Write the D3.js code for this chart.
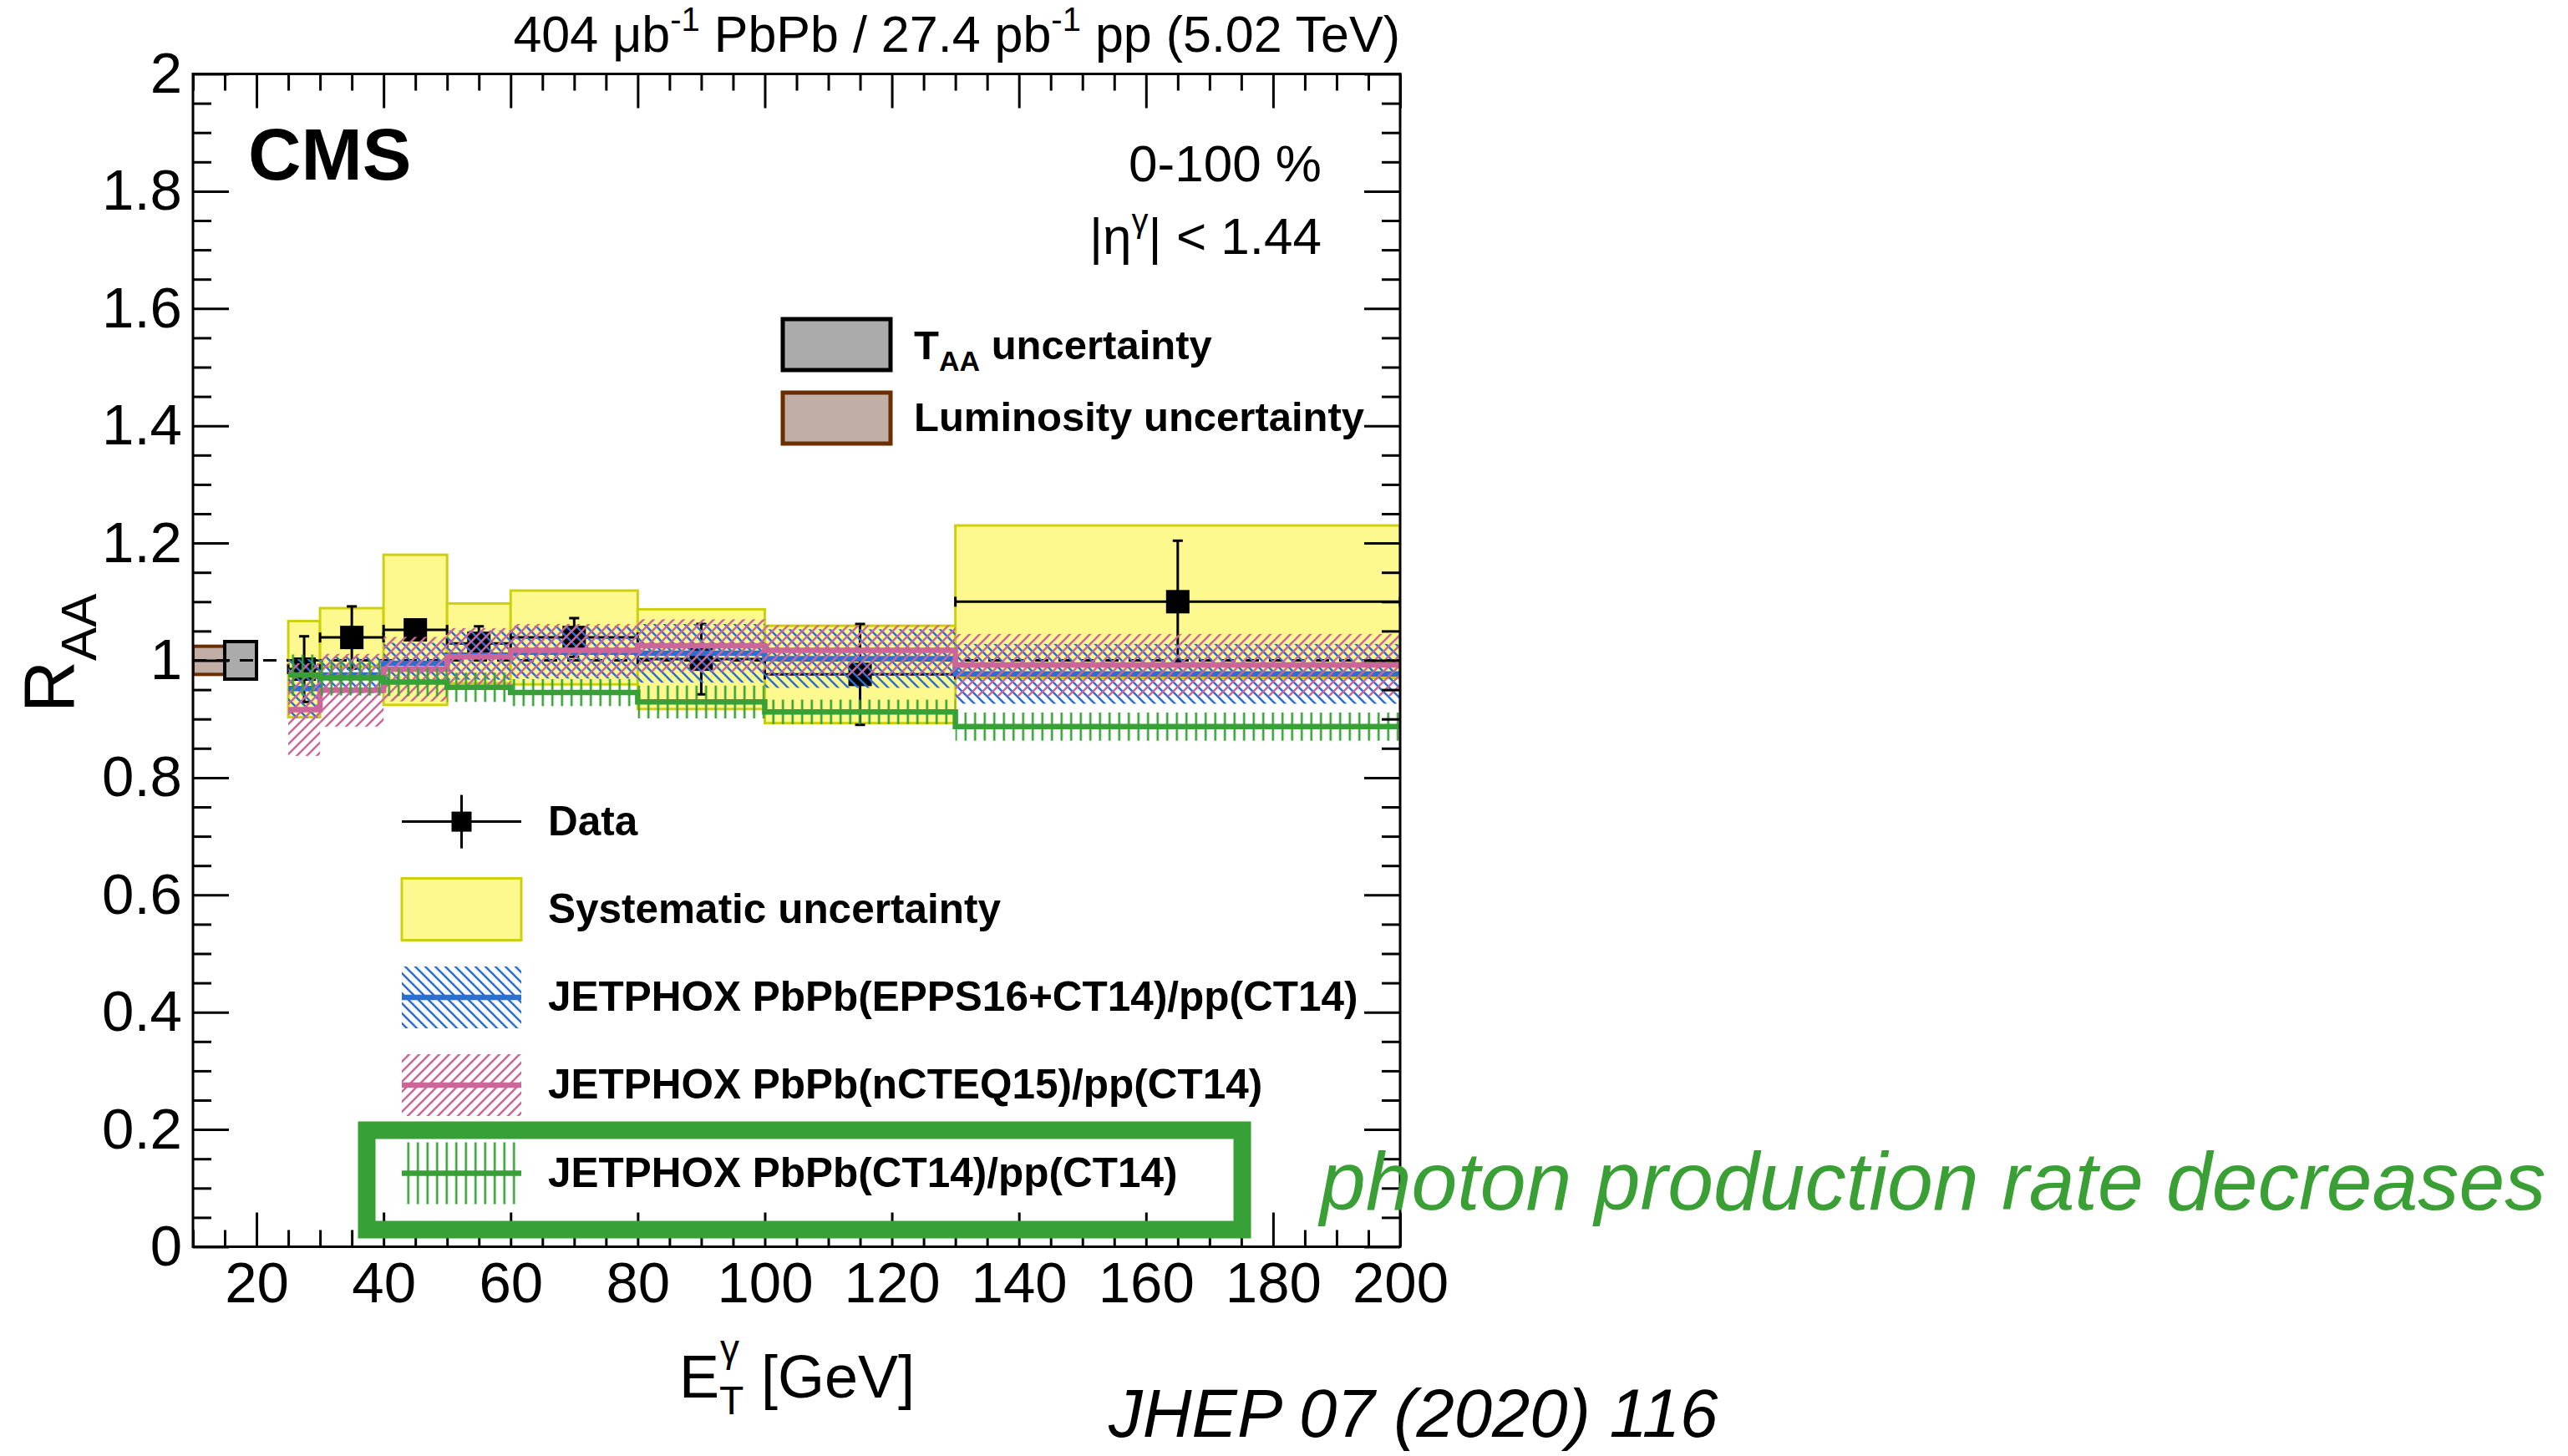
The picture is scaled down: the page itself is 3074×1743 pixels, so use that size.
<!DOCTYPE html>
<html>
<head>
<meta charset="utf-8">
<script src="https://cdn.jsdelivr.net/npm/d3@7"></script>
<style>
  html, body { margin: 0; padding: 0; background: #ffffff; }
  svg { display: block; }
  text { font-family: "Liberation Sans", Arial, Helvetica, sans-serif; }
</style>
</head>
<body>
<svg id="chart" width="3074" height="1743"></svg>
<script>
// ---- photon E_T bins (GeV) ----
const binEdges = [25, 30, 40, 50, 60, 80, 100, 130, 200];

// ---- measured R_AA with statistical and systematic uncertainties ----
const dataRaa = [0.985, 1.039, 1.052, 1.029, 1.039, 1.002, 0.976, 1.100];
const statErr = [0.056, 0.053, 0.015, 0.029, 0.033, 0.060, 0.086, 0.104];
const sysErr  = [0.082, 0.050, 0.128, 0.068, 0.080, 0.085, 0.083, 0.130];

// ---- JETPHOX predictions: central value and half-width of the band ----
const eppsCentral  = [0.952, 0.975, 0.995, 1.009, 1.014, 1.012, 1.003, 0.977];
const eppsErr      = [0.050, 0.031, 0.035, 0.042, 0.045, 0.050, 0.050, 0.051];
const ncteqCentral = [0.916, 0.949, 0.985, 1.006, 1.017, 1.025, 1.017, 0.992];
const ncteqErr     = [0.079, 0.062, 0.055, 0.049, 0.045, 0.045, 0.043, 0.053];
const ct14Central  = [0.975, 0.970, 0.963, 0.954, 0.945, 0.929, 0.912, 0.887];
const ct14Err      = [0.035, 0.030, 0.024, 0.025, 0.023, 0.028, 0.021, 0.024];

// ---- global normalisation uncertainties (drawn at R_AA = 1) ----
const lumiRange = [10, 15];
const lumiErr = 0.024;
const taaRange = [15, 20];
const taaErr = 0.032;

// ---- axis ticks ----
const xMajorTicks = [20, 40, 60, 80, 100, 120, 140, 160, 180, 200];
const xTickLabels = ["20", "40", "60", "80", "100", "120", "140", "160", "180", "200"];
const yMajorTicks = [0, 0.2, 0.4, 0.6, 0.8, 1, 1.2, 1.4, 1.6, 1.8, 2];
const yTickLabels = ["0", "0.2", "0.4", "0.6", "0.8", "1", "1.2", "1.4", "1.6", "1.8", "2"];

const legendEntries = [
  "Data",
  "Systematic uncertainty",
  "JETPHOX PbPb(EPPS16+CT14)/pp(CT14)",
  "JETPHOX PbPb(nCTEQ15)/pp(CT14)",
  "JETPHOX PbPb(CT14)/pp(CT14)"
];

const colors = {
  epps: "#2c6fd2",
  ncteq: "#cc6699",
  ct14: "#37a037",
  sysFill: "#fdf98e",
  sysStroke: "#cfcf10",
  lumiFill: "#c1aea6",
  lumiStroke: "#6b2e00",
  taaFill: "#ababab"
};

const svg = d3.select("#chart");
const pLeft = 231, pRight = 1676, pTop = 88.5, pBottom = 1492.5;
const x = d3.scaleLinear().domain([10, 200]).range([pLeft, pRight]);
const y = d3.scaleLinear().domain([0, 2]).range([pBottom, pTop]);

// ---- hatch patterns ----
const defs = svg.append("defs");
function hatch(id, d, color, w, size) {
  const p = defs.append("pattern").attr("id", id)
    .attr("patternUnits", "userSpaceOnUse")
    .attr("width", size).attr("height", size);
  p.append("path").attr("d", d).attr("stroke", color)
    .attr("stroke-width", w).attr("fill", "none");
}
hatch("hatchBack", "M-3,-3 L15,15 M-3,9 L3,15 M9,-3 L15,3", colors.epps, 2.6, 12);
hatch("hatchFwd", "M-3,15 L15,-3 M-3,3 L3,-3 M9,15 L15,9", colors.ncteq, 2.6, 12);
hatch("hatchVert", "M5.75,0 L5.75,11.5", colors.ct14, 2.6, 11.5);
defs.append("clipPath").attr("id", "plotClip")
  .append("rect").attr("x", pLeft).attr("y", pTop)
  .attr("width", pRight - pLeft).attr("height", pBottom - pTop);

const bins = d3.range(dataRaa.length).map(i => ({
  lo: binEdges[i], hi: binEdges[i + 1], mid: (binEdges[i] + binEdges[i + 1]) / 2, i
}));

const plot = svg.append("g").attr("clip-path", "url(#plotClip)");

// systematic uncertainty boxes
plot.selectAll("rect.sys").data(bins).join("rect").attr("class", "sys")
  .attr("x", d => x(d.lo)).attr("width", d => x(d.hi) - x(d.lo))
  .attr("y", d => y(dataRaa[d.i] + sysErr[d.i]))
  .attr("height", d => y(dataRaa[d.i] - sysErr[d.i]) - y(dataRaa[d.i] + sysErr[d.i]))
  .attr("fill", colors.sysFill).attr("stroke", colors.sysStroke).attr("stroke-width", 3);

// normalisation boxes
plot.append("rect")
  .attr("x", x(lumiRange[0])).attr("width", x(lumiRange[1]) - x(lumiRange[0]))
  .attr("y", y(1 + lumiErr)).attr("height", y(1 - lumiErr) - y(1 + lumiErr))
  .attr("fill", colors.lumiFill).attr("stroke", colors.lumiStroke).attr("stroke-width", 4);
plot.append("rect")
  .attr("x", x(taaRange[0])).attr("width", x(taaRange[1]) - x(taaRange[0]))
  .attr("y", y(1 + taaErr)).attr("height", y(1 - taaErr) - y(1 + taaErr))
  .attr("fill", colors.taaFill).attr("stroke", "#000").attr("stroke-width", 4);

// reference line at unity
plot.append("line")
  .attr("x1", x(10)).attr("x2", x(200)).attr("y1", y(1)).attr("y2", y(1))
  .attr("stroke", "#000").attr("stroke-width", 3).attr("stroke-dasharray", "16,12");

// data points
const pts = plot.append("g");
bins.forEach(d => {
  const v = dataRaa[d.i], e = statErr[d.i];
  const g = pts.append("g").attr("stroke", "#000").attr("stroke-width", 3);
  g.append("line").attr("x1", x(d.lo)).attr("x2", x(d.hi)).attr("y1", y(v)).attr("y2", y(v));
  g.append("line").attr("x1", x(d.lo)).attr("x2", x(d.lo)).attr("y1", y(v) - 6).attr("y2", y(v) + 6);
  g.append("line").attr("x1", x(d.hi)).attr("x2", x(d.hi)).attr("y1", y(v) - 6).attr("y2", y(v) + 6);
  g.append("line").attr("x1", x(d.mid)).attr("x2", x(d.mid)).attr("y1", y(v + e)).attr("y2", y(v - e));
  g.append("line").attr("x1", x(d.mid) - 6).attr("x2", x(d.mid) + 6).attr("y1", y(v + e)).attr("y2", y(v + e));
  g.append("line").attr("x1", x(d.mid) - 6).attr("x2", x(d.mid) + 6).attr("y1", y(v - e)).attr("y2", y(v - e));
  g.append("rect").attr("x", x(d.mid) - 14).attr("y", y(v) - 14)
    .attr("width", 28).attr("height", 28).attr("fill", "#000").attr("stroke", "none");
});

// theory bands and step lines
const stepLine = d3.line().x(p => x(p[0])).y(p => y(p[1])).curve(d3.curveStepAfter);
function theory(central, err, pattern, color) {
  plot.append("g").selectAll("rect").data(bins).join("rect")
    .attr("x", d => x(d.lo)).attr("width", d => x(d.hi) - x(d.lo))
    .attr("y", d => y(central[d.i] + err[d.i]))
    .attr("height", d => y(central[d.i] - err[d.i]) - y(central[d.i] + err[d.i]))
    .attr("fill", `url(#${pattern})`);
  const p = central.map((v, i) => [binEdges[i], v]);
  p.push([binEdges[binEdges.length - 1], central[central.length - 1]]);
  plot.append("path").attr("d", stepLine(p)).attr("fill", "none")
    .attr("stroke", color).attr("stroke-width", 6.5);
}
theory(eppsCentral, eppsErr, "hatchBack", colors.epps);
theory(ncteqCentral, ncteqErr, "hatchFwd", colors.ncteq);
theory(ct14Central, ct14Err, "hatchVert", colors.ct14);

// ---- axes: ticks on all four sides, pointing inwards ----
const xMinor = d3.range(10, 201, 5).filter(v => !xMajorTicks.includes(v));
const yMinor = d3.range(0, 41).map(k => k * 0.05).filter(v => !yMajorTicks.some(t => Math.abs(t - v) < 1e-6));
function styleAxis(g) {
  g.select(".domain").remove();
  g.selectAll(".tick line").attr("stroke", "#000").attr("stroke-width", 3);
  g.selectAll(".tick text").attr("fill", "#000")
    .attr("font-family", '"Liberation Sans", Arial, sans-serif').attr("font-size", 69);
}
svg.append("g").attr("transform", `translate(0,${pBottom})`)
  .call(d3.axisBottom(x).tickValues(xMajorTicks).tickSize(-41).tickPadding(18)
    .tickFormat((d, i) => xTickLabels[i])).call(styleAxis);
svg.append("g").attr("transform", `translate(0,${pBottom})`)
  .call(d3.axisBottom(x).tickValues(xMinor).tickSize(-20).tickFormat("")).call(styleAxis);
svg.append("g").attr("transform", `translate(0,${pTop})`)
  .call(d3.axisTop(x).tickValues(xMajorTicks).tickSize(-41).tickFormat("")).call(styleAxis);
svg.append("g").attr("transform", `translate(0,${pTop})`)
  .call(d3.axisTop(x).tickValues(xMinor).tickSize(-20).tickFormat("")).call(styleAxis);
svg.append("g").attr("transform", `translate(${pLeft},0)`)
  .call(d3.axisLeft(y).tickValues(yMajorTicks).tickSize(-43).tickPadding(13)
    .tickFormat((d, i) => yTickLabels[i])).call(styleAxis);
svg.append("g").attr("transform", `translate(${pLeft},0)`)
  .call(d3.axisLeft(y).tickValues(yMinor).tickSize(-22).tickFormat("")).call(styleAxis);
svg.append("g").attr("transform", `translate(${pRight},0)`)
  .call(d3.axisRight(y).tickValues(yMajorTicks).tickSize(-43).tickFormat("")).call(styleAxis);
svg.append("g").attr("transform", `translate(${pRight},0)`)
  .call(d3.axisRight(y).tickValues(yMinor).tickSize(-22).tickFormat("")).call(styleAxis);
svg.append("rect").attr("x", pLeft).attr("y", pTop)
  .attr("width", pRight - pLeft).attr("height", pBottom - pTop)
  .attr("fill", "none").attr("stroke", "#000").attr("stroke-width", 3);

// ---- axis titles ----
const xt = svg.append("g").attr("font-size", 72);
xt.append("text").attr("x", 813).attr("y", 1673).text("E");
xt.append("text").attr("x", 861).attr("y", 1693).attr("font-size", 48).text("T");
xt.append("text").attr("x", 862).attr("y", 1630).attr("font-size", 46).text("γ");
xt.append("text").attr("x", 911).attr("y", 1673).text("[GeV]");

const yt = svg.append("text").attr("transform", "translate(88,853) rotate(-90)").attr("font-size", 86);
yt.append("tspan").text("R");
yt.append("tspan").attr("dy", 27).attr("font-size", 60).text("AA");

// ---- header ----
const hdr = svg.append("text").attr("x", pRight).attr("y", 62)
  .attr("text-anchor", "end").attr("font-size", 61);
hdr.append("tspan").text("404 μb");
hdr.append("tspan").attr("dy", -25).attr("font-size", 40).text("-1");
hdr.append("tspan").attr("dy", 25).text(" PbPb / 27.4 pb");
hdr.append("tspan").attr("dy", -25).attr("font-size", 40).text("-1");
hdr.append("tspan").attr("dy", 25).text(" pp (5.02 TeV)");

svg.append("text").attr("x", 297).attr("y", 215).attr("font-size", 88)
  .attr("font-weight", "bold").text("CMS");
svg.append("text").attr("x", 1582).attr("y", 217).attr("font-size", 62)
  .attr("text-anchor", "end").text("0-100 %");
const eta = svg.append("text").attr("x", 1582).attr("y", 304).attr("font-size", 62)
  .attr("text-anchor", "end");
eta.append("tspan").text("|η");
eta.append("tspan").attr("dy", -26).attr("font-size", 40).text("γ");
eta.append("tspan").attr("dy", 26).text("| < 1.44");

// ---- normalisation legend ----
const nl = svg.append("g").attr("font-size", 49).attr("font-weight", "bold");
nl.append("rect").attr("x", 937).attr("y", 382).attr("width", 129).attr("height", 61)
  .attr("fill", colors.taaFill).attr("stroke", "#000").attr("stroke-width", 5);
nl.append("rect").attr("x", 937).attr("y", 470).attr("width", 129).attr("height", 61)
  .attr("fill", colors.lumiFill).attr("stroke", colors.lumiStroke).attr("stroke-width", 5);
const taaT = nl.append("text").attr("x", 1094).attr("y", 430);
taaT.append("tspan").text("T");
taaT.append("tspan").attr("dy", 14).attr("font-size", 34).text("AA");
taaT.append("tspan").attr("dy", -14).text(" uncertainty");
nl.append("text").attr("x", 1094).attr("y", 516).text("Luminosity uncertainty");

// ---- main legend ----
const lg = svg.append("g");
const rowY = [983.6, 1088.5, 1194, 1299, 1404.5];
const bx0 = 481, bx1 = 624, bh = 37;
// data
lg.append("line").attr("x1", bx0).attr("x2", bx1).attr("y1", rowY[0]).attr("y2", rowY[0])
  .attr("stroke", "#000").attr("stroke-width", 3);
lg.append("line").attr("x1", 552.5).attr("x2", 552.5).attr("y1", rowY[0] - 32).attr("y2", rowY[0] + 32)
  .attr("stroke", "#000").attr("stroke-width", 3);
lg.append("rect").attr("x", 552.5 - 12).attr("y", rowY[0] - 12).attr("width", 24).attr("height", 24)
  .attr("fill", "#000");
// systematic
lg.append("rect").attr("x", bx0).attr("y", rowY[1] - bh).attr("width", bx1 - bx0).attr("height", 2 * bh)
  .attr("fill", colors.sysFill).attr("stroke", colors.sysStroke).attr("stroke-width", 3);
// theory entries
[["hatchBack", colors.epps], ["hatchFwd", colors.ncteq], ["hatchVert", colors.ct14]].forEach((s, k) => {
  const cy = rowY[k + 2];
  lg.append("rect").attr("x", bx0).attr("y", cy - bh).attr("width", bx1 - bx0).attr("height", 2 * bh)
    .attr("fill", `url(#${s[0]})`);
  lg.append("line").attr("x1", bx0).attr("x2", bx1).attr("y1", cy).attr("y2", cy)
    .attr("stroke", s[1]).attr("stroke-width", 6.5);
});
lg.selectAll("text.lab").data(legendEntries).join("text").attr("class", "lab")
  .attr("x", 656).attr("y", (d, i) => rowY[i] + 16)
  .attr("font-size", 49.5).attr("font-weight", "bold").text(d => d);

// ---- highlight and annotations ----
svg.append("rect").attr("x", 439).attr("y", 1353).attr("width", 1048).attr("height", 119)
  .attr("fill", "none").attr("stroke", colors.ct14).attr("stroke-width", 21);
svg.append("text").attr("x", 1580).attr("y", 1448).attr("font-size", 98.5)
  .attr("font-style", "italic").attr("fill", "#3aa035").text("photon production rate decreases");
svg.append("text").attr("x", 1327).attr("y", 1720).attr("font-size", 81.5)
  .attr("font-style", "italic").attr("fill", "#000").text("JHEP 07 (2020) 116");
</script>
</body>
</html>
